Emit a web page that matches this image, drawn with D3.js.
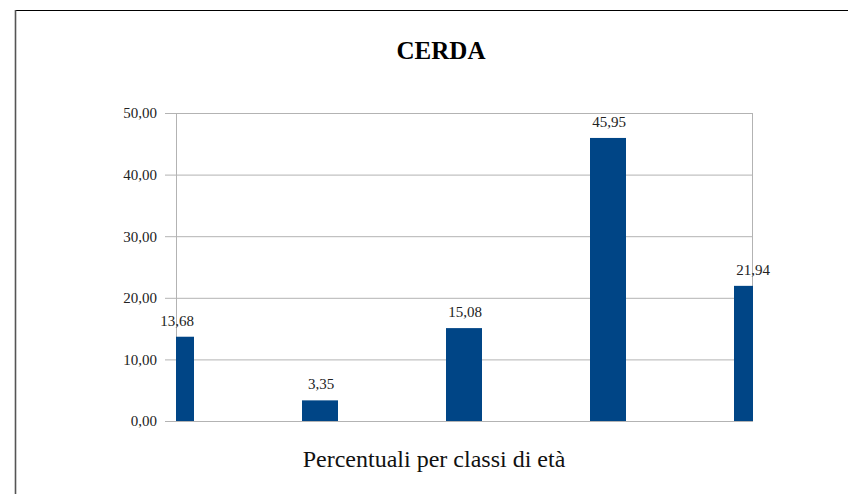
<!DOCTYPE html>
<html lang="it">
	<head>
		<meta charset="UTF-8" />
		<title>CERDA</title>
		<style>
			* {
				padding: 0;
				margin: 0;
			}
			body {
				background: #fff;
			}
			svg text {
				font-family: 'Liberation Serif', 'DejaVu Serif', serif;
			}
			.grid line {
				stroke: #b3b3b3;
				stroke-width: 1px;
			}
			.bar {
				fill: #004586;
			}
		</style>
	</head>
	<body>
		<svg id="chart" width="849" height="494"></svg>
		<script src="https://d3js.org/d3.v7.min.js"></script>
		<script>
			// age classes (not labelled on the chart)
			const categories = ['Classe 1', 'Classe 2', 'Classe 3', 'Classe 4', 'Classe 5'];
			const values = [13.68, 3.35, 15.08, 45.95, 21.94];
			const yTicks = [0, 10, 20, 30, 40, 50];

			const svg = d3.select('#chart'),
				plotL = 176,
				plotR = 752,
				plotT = 113,
				plotB = 421,
				barW = 36;

			const fmt = (v) => d3.format('.2f')(v).replace('.', ',');

			const x = d3.scalePoint().domain(categories).range([plotL, plotR]);
			const y = d3.scaleLinear().domain([0, 50]).range([plotB, plotT]);

			// page frame
			svg.append('line')
				.attr('x1', 15).attr('x2', 848).attr('y1', 10.5).attr('y2', 10.5)
				.attr('stroke', '#000').attr('stroke-width', 1.2);
			svg.append('line')
				.attr('x1', 15.5).attr('x2', 15.5).attr('y1', 10).attr('y2', 494)
				.attr('stroke', '#555').attr('stroke-width', 1.6);

			svg.append('text')
				.attr('x', 441).attr('y', 59)
				.attr('text-anchor', 'middle')
				.attr('font-size', 25).attr('font-weight', 'bold')
				.text('CERDA');

			// horizontal gridlines + ticks
			const yAxis = d3.axisLeft(y).tickValues(yTicks).tickSize(11).tickPadding(8).tickFormat(fmt);
			const ga = svg.append('g').attr('class', 'grid').attr('transform', `translate(${plotL},0)`).call(yAxis);
			ga.attr('font-family', null);
			ga.select('.domain').remove();
			ga.selectAll('.tick text')
				.attr('font-size', 15)
				.attr('fill', '#222');
			ga.selectAll('.tick').append('line').attr('x1', 0).attr('x2', plotR - plotL);

			// plot area frame
			svg.append('rect')
				.attr('x', plotL + 0.5).attr('y', plotT + 0.5)
				.attr('width', plotR - plotL).attr('height', plotB - plotT)
				.attr('fill', 'none').attr('stroke', '#b3b3b3');

			svg.append('clipPath').attr('id', 'plot')
				.append('rect')
				.attr('x', plotL).attr('y', plotT - 50)
				.attr('width', plotR - plotL + 1).attr('height', plotB - plotT + 50);

			svg.append('g').attr('clip-path', 'url(#plot)')
				.selectAll('rect')
				.data(values)
				.join('rect')
				.attr('class', 'bar')
				.attr('x', (d, i) => x(categories[i]) - barW / 2)
				.attr('y', (d) => y(d))
				.attr('width', barW)
				.attr('height', (d) => plotB - y(d));

			svg.append('g')
				.selectAll('text')
				.data(values)
				.join('text')
				.attr('x', (d, i) => x(categories[i]) + 1)
				.attr('y', (d) => y(d) - 11)
				.attr('text-anchor', 'middle')
				.attr('font-size', 15)
				.attr('fill', '#222')
				.text(fmt);

			svg.append('text')
				.attr('x', 434).attr('y', 467)
				.attr('text-anchor', 'middle')
				.attr('font-size', 24)
				.attr('fill', '#111')
				.text('Percentuali per classi di età');
		</script>
	</body>
</html>
